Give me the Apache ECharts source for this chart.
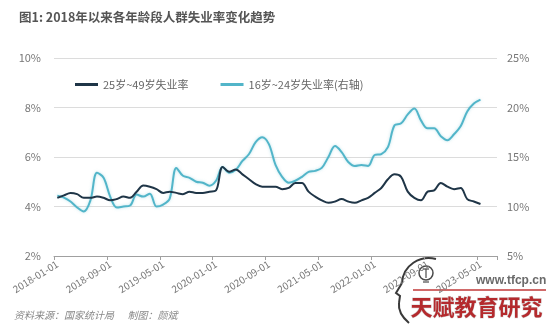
<!DOCTYPE html>
<html>
<head>
<meta charset="utf-8">
<script src="https://cdn.jsdelivr.net/npm/echarts@6/dist/echarts.min.js"></script>
<style>
  html, body { margin: 0; padding: 0; background: #fff; }
  #chart { width: 550px; height: 325px; }
</style>
</head>
<body>
<div id="chart"></div>
<script>
// Monthly categories, 2018-01 through 2023-07 (last two months have no data yet)
const months = [];
for (let i = 0; i < 67; i++) {
  const y = 2018 + Math.floor(i / 12);
  const m = (i % 12) + 1;
  months.push(y + '-' + String(m).padStart(2, '0') + '-01');
}

// Unemployment rate, ages 25-49 (%), left axis
const rate25to49 = [
  4.35, 4.45, 4.55, 4.5, 4.35, 4.35, 4.4, 4.35, 4.25, 4.3, 4.4, 4.35,
  4.6, 4.85, 4.8, 4.7, 4.55, 4.6, 4.55, 4.5, 4.6, 4.55, 4.55, 4.6,
  4.65, 5.6, 5.4, 5.5, 5.3, 5.1, 4.9, 4.8, 4.8, 4.8, 4.7, 4.75,
  4.95, 4.95, 4.6, 4.4, 4.25, 4.15, 4.2, 4.3, 4.2, 4.15, 4.25, 4.35,
  4.55, 4.75, 5.1, 5.3, 5.2, 4.6, 4.35, 4.25, 4.6, 4.65, 4.95, 4.8,
  4.7, 4.75, 4.3, 4.2, 4.1
];

// Unemployment rate, ages 16-24 (%), right axis
const rate16to24 = [
  11.1, 10.9, 10.5, 9.9, 9.5, 10.6, 13.4, 12.9, 11.0, 9.9, 10.0, 10.1,
  11.2, 11.0, 11.3, 10.0, 10.2, 10.8, 13.9, 13.1, 12.9, 12.5, 12.4, 12.1,
  12.6, 14.0, 13.4, 13.7, 14.6, 15.3, 16.5, 17.0, 16.3, 14.2, 13.0, 12.4,
  12.6, 13.0, 13.5, 13.6, 13.9, 15.0, 16.1, 15.5, 14.5, 14.1, 14.2, 14.1,
  15.2, 15.3, 16.0, 18.2, 18.4, 19.3, 19.9, 18.7, 17.9, 17.9, 17.1, 16.7,
  17.3, 18.1, 19.6, 20.4, 20.8
];

const seriesNames = ['25岁~49岁失业率', '16岁~24岁失业率(右轴)'];
const colorDark = '#1f3547';
const colorTeal = '#52b5c9';
const FONT = '"Noto Sans CJK SC", "Noto Sans", sans-serif';

// Attach a value label to the final data point
function withEndLabel(arr, distance, offset) {
  return arr.map((v, i) => i === arr.length - 1
    ? { value: v, label: { show: true, position: 'top', distance: distance, offset: offset,
        formatter: String(v), color: '#777', fontSize: 11, fontFamily: FONT } }
    : v);
}

const chart = echarts.init(document.getElementById('chart'), null, { renderer: 'canvas' });

const markStroke = { fill: 'none', stroke: '#3a3a3a', lineWidth: 2 };

chart.setOption({
  animation: false,
  backgroundColor: '#fff',
  textStyle: { fontFamily: FONT },
  title: {
    text: '图1: 2018年以来各年龄段人群失业率变化趋势',
    left: 14, top: 6,
    textStyle: { fontSize: 12.5, fontWeight: 'bold', color: '#555', fontFamily: FONT }
  },
  legend: {
    left: 70, top: 74,
    itemGap: 32,
    itemWidth: 23, itemHeight: 3,
    icon: 'rect',
    textStyle: { color: '#666', fontSize: 11, fontFamily: FONT },
    data: seriesNames
  },
  grid: { left: 54, right: 53, top: 58, bottom: 69, containLabel: false },
  xAxis: {
    type: 'category',
    data: months,
    boundaryGap: true,
    axisLine: { lineStyle: { color: '#a0a0a0', width: 1 } },
    axisTick: { show: true, interval: 7, length: 4, lineStyle: { color: '#a0a0a0' } },
    axisLabel: { interval: 7, rotate: 32, margin: 7, color: '#777', fontSize: 10, fontFamily: FONT },
    splitLine: { show: false }
  },
  yAxis: [
    {
      type: 'value', min: 2, max: 10, interval: 2,
      axisLine: { show: false }, axisTick: { show: false },
      axisLabel: { formatter: '{value}%', color: '#777', fontSize: 11, margin: 13, fontFamily: FONT },
      splitLine: { lineStyle: { color: '#dcdcdc', width: 1 } }
    },
    {
      type: 'value', min: 5, max: 25, interval: 5,
      axisLine: { show: false }, axisTick: { show: false },
      axisLabel: { formatter: '{value}%', color: '#777', fontSize: 11, margin: 10, fontFamily: FONT },
      splitLine: { show: false }
    }
  ],
  series: [
    {
      name: seriesNames[0],
      type: 'line',
      yAxisIndex: 0,
      data: withEndLabel(rate25to49, 8, [0, 0]),
      smooth: 0.35,
      symbol: 'none',
      lineStyle: { color: colorDark, width: 2 },
      itemStyle: { color: colorDark },
      z: 3
    },
    {
      name: seriesNames[1],
      type: 'line',
      yAxisIndex: 1,
      data: withEndLabel(rate16to24, 4, [-6, 0]),
      smooth: 0.35,
      symbol: 'none',
      lineStyle: { color: colorTeal, width: 2, shadowColor: 'rgba(120,200,215,0.5)', shadowBlur: 3 },
      itemStyle: { color: colorTeal },
      z: 2
    }
  ],
  graphic: [
    {
      type: 'text', left: 14, top: 310,
      style: { text: '资料来源：国家统计局      制图：颜斌', fill: '#888', fontSize: 10, fontFamily: FONT, fontStyle: 'italic' }
    },
    // Publisher mark, bottom right: head profile with a light bulb
    {
      type: 'bezierCurve', silent: true,
      shape: { x1: 436, y1: 259, cpx1: 420, cpy1: 255, cpx2: 403, cpy2: 265, x2: 402, y2: 283 },
      style: markStroke
    },
    {
      type: 'polyline', silent: true,
      shape: { points: [[402, 283], [396, 293], [400, 296], [399, 303]] },
      style: markStroke
    },
    {
      type: 'bezierCurve', silent: true,
      shape: { x1: 399, y1: 303, cpx1: 398, cpy1: 311, cpx2: 402, cpy2: 317, x2: 409, y2: 323 },
      style: markStroke
    },
    {
      type: 'circle', silent: true,
      shape: { cx: 426, cy: 273, r: 7 },
      style: { fill: 'none', stroke: '#4a4a4a', lineWidth: 1.5 }
    },
    {
      type: 'line', silent: true,
      shape: { x1: 426, y1: 269, x2: 426, y2: 278 },
      style: { stroke: '#4a4a4a', lineWidth: 1.2 }
    },
    {
      type: 'line', silent: true,
      shape: { x1: 423, y1: 269, x2: 429, y2: 269 },
      style: { stroke: '#4a4a4a', lineWidth: 1.2 }
    },
    {
      type: 'line', silent: true,
      shape: { x1: 423, y1: 282, x2: 429, y2: 282 },
      style: { stroke: '#4a4a4a', lineWidth: 1.2 }
    },
    {
      type: 'text', left: 476, top: 275,
      style: { text: 'www.tfcp.cn', fill: '#6a6a6a', fontSize: 12, fontWeight: 'bold', fontFamily: '"Liberation Sans", sans-serif' }
    },
    {
      type: 'rect', silent: true,
      shape: { x: 413, y: 289, width: 133, height: 2 },
      style: { fill: '#d06a6a' }
    },
    {
      type: 'text', left: 410, top: 295,
      style: { text: '天赋教育研究', fill: '#b42a2d', fontSize: 22, fontWeight: 'bold', fontFamily: FONT,
        stroke: '#d8d8d8', lineWidth: 1 }
    }
  ]
});
</script>
</body>
</html>
